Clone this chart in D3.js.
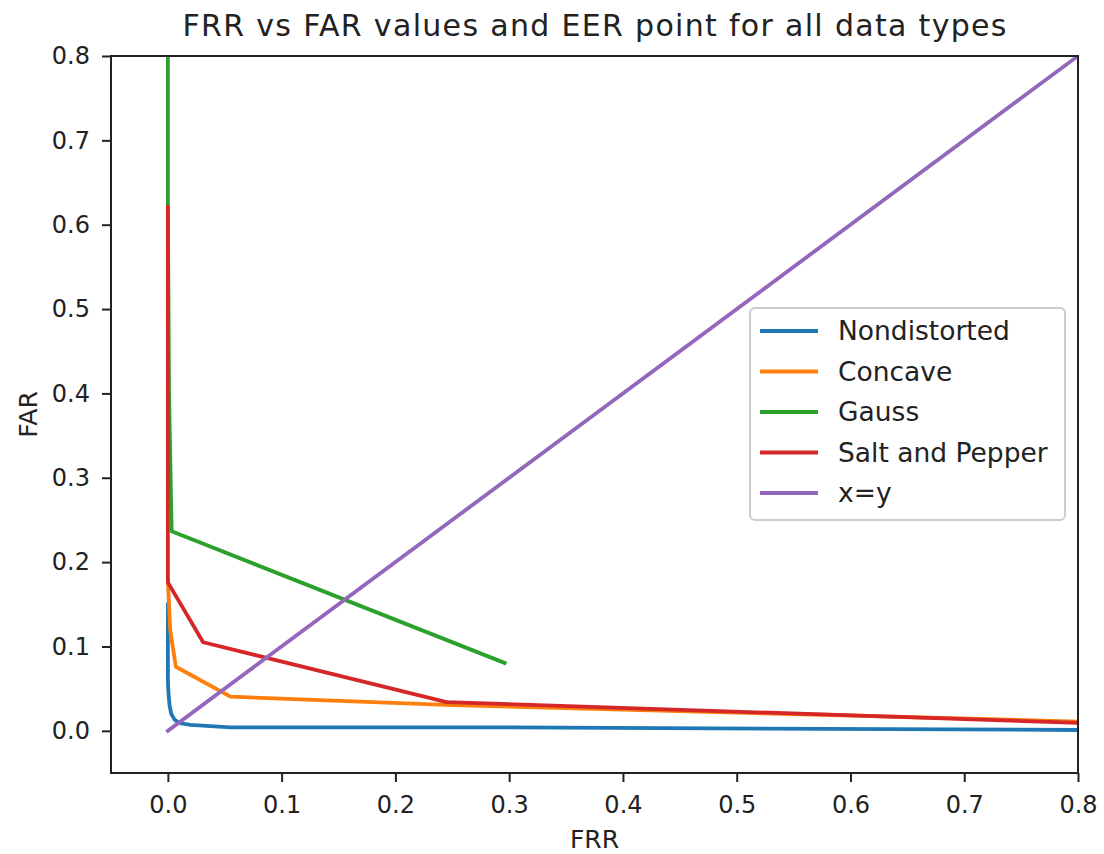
<!DOCTYPE html>
<html>
<head>
<meta charset="utf-8">
<script src="https://cdn.jsdelivr.net/npm/d3@7"></script>
<style>
  body { margin: 0; background: #fff; }
  svg { display: block; font-family: "DejaVu Sans", sans-serif; }
</style>
</head>
<body>
<svg id="chart" width="1104" height="854"></svg>
<script>
// FRR / FAR pairs for each data type
var nondistortedFRR = [0, 0, 0.0005, 0.0015, 0.003, 0.006, 0.0105, 0.02, 0.055, 0.3, 0.8];
var nondistortedFAR = [0.15, 0.06, 0.045, 0.03, 0.02, 0.013, 0.009, 0.007, 0.004, 0.004, 0.001];

var concaveFRR = [0, 0.002, 0.007, 0.055, 0.25, 0.8];
var concaveFAR = [0.178, 0.12, 0.076, 0.0405, 0.0305, 0.011];

var gaussFRR = [0, 0, 0.001, 0.0033, 0.296];
var gaussFAR = [1.0, 0.62, 0.4, 0.2365, 0.0805];

var saltFRR = [0, 0, 0.031, 0.245, 0.8];
var saltFAR = [0.621, 0.176, 0.105, 0.034, 0.0095];

var diagFRR = [0, 0.8];
var diagFAR = [0, 0.8];

var seriesNames = ["Nondistorted", "Concave", "Gauss", "Salt and Pepper", "x=y"];
var seriesColors = ["#1f77b4", "#ff7f0e", "#2ca02c", "#d62728", "#9467bd"];
var tickValues = [0, 0.1, 0.2, 0.3, 0.4, 0.5, 0.6, 0.7, 0.8];

function zipPairs(xs, ys) {
  return xs.map(function(x, i) { return [x, ys[i]]; });
}

var series = [
  zipPairs(nondistortedFRR, nondistortedFAR),
  zipPairs(concaveFRR, concaveFAR),
  zipPairs(gaussFRR, gaussFAR),
  zipPairs(saltFRR, saltFAR),
  zipPairs(diagFRR, diagFAR)
];

var svg = d3.select("#chart");
// note: "top" is taken by window.top, so use plot* names
var plotL = 111, plotR = 1078, plotT = 56, plotB = 773;

var x = d3.scaleLinear().domain([-0.05, 0.8]).range([plotL, plotR]);
var y = d3.scaleLinear().domain([-0.05, 0.8]).range([plotB, plotT]);

svg.append("defs").append("clipPath").attr("id", "plotclip")
  .append("rect")
  .attr("x", plotL).attr("y", plotT)
  .attr("width", plotR - plotL).attr("height", plotB - plotT);

var line = d3.line()
  .x(function(d) { return x(d[0]); })
  .y(function(d) { return y(d[1]); });

svg.append("g").attr("clip-path", "url(#plotclip)")
  .selectAll("path")
  .data(series)
  .enter()
  .append("path")
  .attr("d", line)
  .attr("fill", "none")
  .attr("stroke", function(d, i) { return seriesColors[i]; })
  .attr("stroke-width", 3.8)
  .attr("stroke-linejoin", "round")
  .attr("stroke-linecap", "square");

// axes
var xAxis = d3.axisBottom(x).tickValues(tickValues).tickFormat(d3.format(".1f")).tickSizeOuter(0).tickSize(9).tickPadding(14);
var yAxis = d3.axisLeft(y).tickValues(tickValues).tickFormat(d3.format(".1f")).tickSizeOuter(0).tickSize(9).tickPadding(12);

var gx = svg.append("g").attr("transform", "translate(0," + plotB + ")").call(xAxis);
var gy = svg.append("g").attr("transform", "translate(" + plotL + ",0)").call(yAxis);
[gx, gy].forEach(function(g) {
  g.select(".domain").remove();
  g.selectAll(".tick line").attr("stroke", "#222").attr("stroke-width", 2);
  g.selectAll(".tick text").attr("fill", "#222").style("font-size", "24px")
    .style("font-family", "DejaVu Sans, sans-serif");
});

// frame
svg.append("rect")
  .attr("x", plotL).attr("y", plotT)
  .attr("width", plotR - plotL).attr("height", plotB - plotT)
  .attr("fill", "none").attr("stroke", "#222").attr("stroke-width", 2);

// title and labels
svg.append("text")
  .attr("x", (plotL + plotR) / 2).attr("y", 36)
  .attr("text-anchor", "middle")
  .attr("textLength", 824)
  .style("font-size", "30px").attr("fill", "#222")
  .text("FRR vs FAR values and EER point for all data types");

svg.append("text")
  .attr("x", (plotL + plotR) / 2).attr("y", 848)
  .attr("text-anchor", "middle")
  .style("font-size", "25px").attr("fill", "#222")
  .text("FRR");

svg.append("text")
  .attr("transform", "translate(37," + ((plotT + plotB) / 2) + ") rotate(-90)")
  .attr("text-anchor", "middle")
  .style("font-size", "25px").attr("fill", "#222")
  .text("FAR");

// legend
var legend = svg.append("g").attr("transform", "translate(750,308)");
legend.append("rect")
  .attr("width", 315).attr("height", 212)
  .attr("rx", 5).attr("ry", 5)
  .attr("fill", "#fff").attr("fill-opacity", 0.8)
  .attr("stroke", "#ccc").attr("stroke-width", 2);

var rows = legend.selectAll("g.row")
  .data(seriesNames)
  .enter()
  .append("g")
  .attr("class", "row")
  .attr("transform", function(d, i) { return "translate(0," + (23 + i * 40.5) + ")"; });

rows.append("line")
  .attr("x1", 10).attr("x2", 68)
  .attr("stroke", function(d, i) { return seriesColors[i]; })
  .attr("stroke-width", 3.8);

rows.append("text")
  .attr("x", 88).attr("dy", "0.35em")
  .style("font-size", "26.5px").attr("fill", "#222")
  .text(function(d) { return d; });
</script>
</body>
</html>
